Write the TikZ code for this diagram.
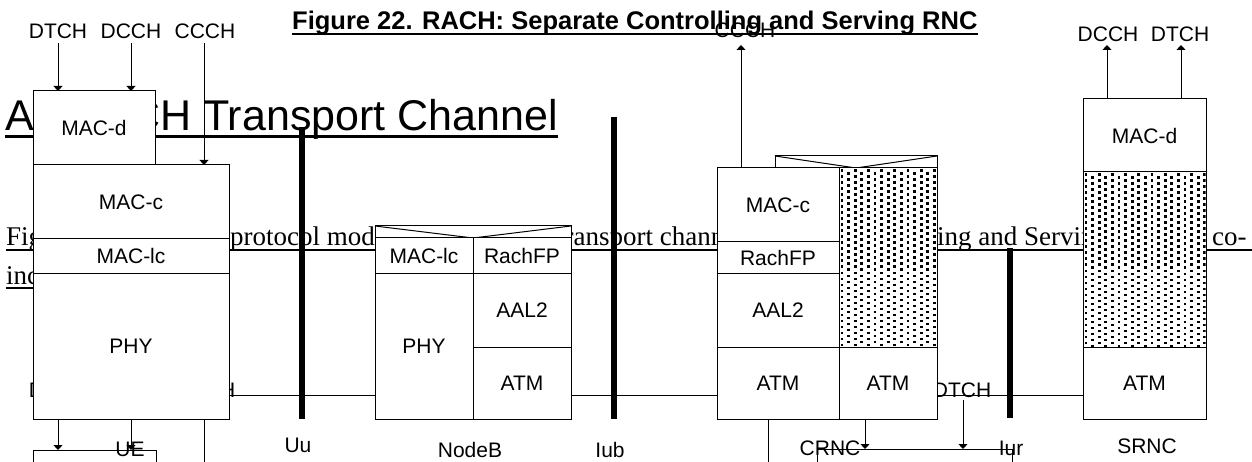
\documentclass[tikz,border=0pt]{standalone}
\usepackage{fontspec}
\setmainfont{Liberation Serif}
\newfontfamily\arialf{Liberation Sans}
\usetikzlibrary{arrows.meta}
\begin{document}
\begin{tikzpicture}[x=1pt,y=-1pt,
  lbl/.style={font=\arialf\fontsize{21}{24}\selectfont, inner sep=0pt},
  cell/.style={draw, fill=white, line width=1pt, inner sep=0pt, outer sep=0pt,
    font=\arialf\fontsize{21}{24}\selectfont, anchor=north west},
  arr/.style={line width=1pt, -{Triangle[length=5pt,width=9pt]}},
  ln/.style={line width=1pt},
  bar/.style={line width=6pt},
  body/.style={font=\fontsize{27}{32}\selectfont, inner sep=0pt, anchor=base west},
]
\useasboundingbox[fill=white] (0,0) rectangle (1252,462);

% ---------- background texts ----------
\node[font=\arialf\bfseries\fontsize{25.5}{30}\selectfont, inner sep=0pt, anchor=base west]
  (title) at (292,30) {Figure 22. RACH: Separate Controlling and Serving RNC};
\draw[line width=2.3pt] ([yshift=-4pt]title.base west) -- ([yshift=-4pt]title.base east);
\node[lbl] (crccch) at (745,30) {CCCH};

\node[font=\arialf\fontsize{43}{50}\selectfont, inner sep=0pt, anchor=base west] (hA) at (5,131) {A};
\node[font=\arialf\fontsize{43}{50}\selectfont, inner sep=0pt, anchor=base west] (hB) at (129,131) {CH Transport Channel};
\draw[line width=3pt] ([yshift=-6pt]hA.base west) -- ([yshift=-6pt]hB.base east);

\node[body] (b1) at (6,246) {Figure};
\node[body] (b2) at (230,246) {protocol model};
\node[body] (b3) at (557,246) {transport channel};
\node[body] (b4) at (847,246) {Controlling and Serving};
\node[body] (b5) at (1212,246) {co-};
\draw[line width=1.5pt] ([yshift=-4pt]b1.base west) -- ([yshift=-4pt]b5.base east -| 1252,0);
\node[body] (b6) at (6,284) {incident.};
\draw[line width=1.5pt] ([yshift=-4pt]b6.base west) -- ([yshift=-4pt]b6.base east);

\node[lbl] (hdtch) at (58,390) {DTCH};
\node[lbl] (hccch) at (205,390) {CCCH};
\node[lbl] (cdtch) at (962,390) {DTCH};

% ---------- UE ----------
\node[cell, minimum width=122pt, minimum height=74pt] (uemacd) at (33,91) {MAC-d};
\node[cell, minimum width=196pt, minimum height=74pt] (uemacc) at (33,165) {MAC-c};
\node[cell, minimum width=196pt, minimum height=34pt] (uemaclc) at (33,239) {MAC-lc};
\node[cell, minimum width=196pt, minimum height=146pt] (uephy) at (33,273) {PHY};
\node[cell, minimum width=123pt, minimum height=40pt] (uebot) at (33,450) {};

% ---------- NodeB ----------
\node[draw, fill=white, line width=1pt, inner sep=0pt, outer sep=0pt, anchor=north west,
  minimum width=196pt, minimum height=12pt] (nbenv) at (375,226) {};
\draw[ln] (nbenv.north west) -- (nbenv.south) -- (nbenv.north east);
\node[cell, minimum width=98pt, minimum height=35pt] (nbmaclc) at (375,238) {MAC-lc};
\node[cell, minimum width=98pt, minimum height=35pt] (nbrach) at (473,238) {RachFP};
\node[cell, minimum width=98pt, minimum height=146pt] (nbphy) at (375,273) {PHY};
\node[cell, minimum width=98pt, minimum height=74pt] (nbaal) at (473,273) {AAL2};
\node[cell, minimum width=98pt, minimum height=72pt] (nbatm) at (473,347) {ATM};

% ---------- CRNC ----------
\node[draw, fill=white, line width=1pt, inner sep=0pt, outer sep=0pt, anchor=north west,
  minimum width=162pt, minimum height=12pt] (crenv) at (775,156) {};
\draw[ln] (crenv.north west) -- (crenv.south) -- (crenv.north east);
\node[cell, minimum width=122pt, minimum height=74pt] (crmacc) at (717,168) {MAC-c};
\node[cell, minimum width=122pt, minimum height=31pt] (crrach) at (717,242) {RachFP};
\node[cell, minimum width=122pt, minimum height=74pt] (craal) at (717,273) {AAL2};
\node[cell, minimum width=122pt, minimum height=72pt] (cratma) at (717,347) {ATM};
\node[cell, minimum width=98pt, minimum height=179pt] (crdots) at (839,168) {};
\node[cell, minimum width=98pt, minimum height=72pt] (cratmb) at (839,347) {ATM};
\node[cell, minimum width=195pt, minimum height=40pt] (crbot) at (817,449) {};

% ---------- SRNC ----------
\node[cell, minimum width=123pt, minimum height=73pt] (srmacd) at (1083,99) {MAC-d};
\node[cell, minimum width=123pt, minimum height=175pt] (srdots) at (1083,172) {};
\node[cell, minimum width=123pt, minimum height=72pt] (sratm) at (1083,347) {ATM};

% ---------- dot fills ----------
\begin{scope}
\clip (839.5,168.5) rectangle (936.5,346.5);
\foreach \i in {0,...,15}{
  \foreach \j in {0,...,31}{
    \fill ({839+1.5+\i*6.6},{168+1.5+\j*6+mod(\i,2)*3}) rectangle ++(2.9,2.9);
  }
}
\end{scope}
\begin{scope}
\clip (1083.5,172.5) rectangle (1205.5,346.5);
\foreach \i in {0,...,18}{
  \foreach \j in {0,...,30}{
    \fill ({1083+1.5+\i*6.6},{172+1.5+\j*6+mod(\i,2)*3}) rectangle ++(2.9,2.9);
  }
}
\end{scope}

% ---------- interface line ----------
\coordinate (ifl) at (0,395);
\draw[ln] (uephy.east |- ifl) -- (nbphy.west |- ifl);
\draw[ln] (nbatm.east |- ifl) -- (cratma.west |- ifl);
\draw[ln] (cratmb.east |- ifl) -- (sratm.west |- ifl);

% ---------- top labels and arrows ----------
\node[lbl] (tdtch) at (58,31) {DTCH};
\node[lbl] (tdcch) at (131,31) {DCCH};
\node[lbl] (tccch) at (205,31) {CCCH};
\coordinate (a1) at (58,43);
\coordinate (a2) at (131,43);
\coordinate (a3) at (204,43);
\draw[arr] (a1) -- (a1 |- uemacd.north);
\draw[arr] (a2) -- (a2 |- uemacd.north);
\draw[arr] (a3) -- (a3 |- uemacc.north);

\node[lbl] (sdcch) at (1108,34) {DCCH};
\node[lbl] (sdtch) at (1180,34) {DTCH};
\coordinate (s1) at (1107,45);
\coordinate (s2) at (1181,45);
\draw[arr] (s1 |- srmacd.north) -- (s1);
\draw[arr] (s2 |- srmacd.north) -- (s2);

\coordinate (c1) at (741,45);
\draw[arr] (c1 |- crmacc.north) -- (c1);

% ---------- bottom connectors ----------
\coordinate (u1) at (58,0);
\coordinate (u2) at (131,0);
\coordinate (u3) at (204,0);
\draw[arr] (u1 |- uephy.south) -- (u1 |- uebot.north);
\draw[arr] (u2 |- uephy.south) -- (u2 |- uebot.north);
\draw[ln] (u3 |- uephy.south) -- (204,470);

\coordinate (k1) at (768,0);
\coordinate (k2) at (865,0);
\coordinate (k3) at (963,400);
\draw[ln] (k1 |- cratma.south) -- (768,470);
\draw[arr] (k2 |- cratmb.south) -- (k2 |- crbot.north);
\draw[arr] (k3) -- (k3 |- crbot.north);

% ---------- interface bars ----------
\coordinate (uutop) at (302,127);
\coordinate (ubtop) at (614,117);
\coordinate (urtop) at (1010,248);
\draw[bar] (uutop) -- (uutop |- uephy.south);
\draw[bar] (ubtop) -- (ubtop |- nbatm.south);
\draw[bar] (urtop) -- (1010,418);

% ---------- bottom labels ----------
\node[lbl] (lue) at (130,449) {UE};
\node[lbl] (luu) at (298,445) {Uu};
\node[lbl] (lnb) at (470,450) {NodeB};
\node[lbl] (liub) at (610,450) {Iub};
\node[lbl] (lcr) at (830,448) {CRNC};
\node[lbl] (liur) at (1011,448) {Iur};
\node[lbl] (lsr) at (1147,446) {SRNC};
\end{tikzpicture}
\end{document}
